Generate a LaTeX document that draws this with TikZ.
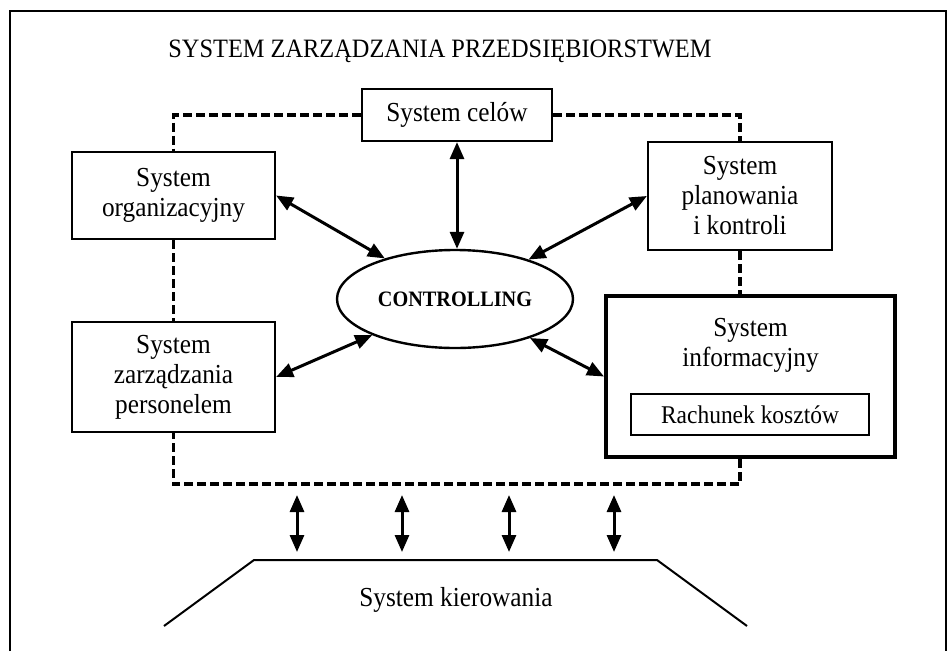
\documentclass[tikz,border=0pt]{standalone}
\usepackage{fontspec}
\setmainfont{Liberation Serif}[FakeStretch=0.92]
\usetikzlibrary{arrows.meta,shapes.geometric}
\begin{document}
\begin{tikzpicture}[x=1pt,y=-1pt,
  box/.style={draw,line width=2.2pt,inner sep=0pt,align=center,font=\fontsize{27.5}{30}\selectfont},
  plaintext/.style={inner sep=0pt,align=center,font=\fontsize{27.5}{30}\selectfont},
  dashline/.style={line width=3.2pt,dash pattern=on 9pt off 4pt},
  biarrow/.style={line width=3pt,arrows={Triangle[length=17pt,width=14pt]-Triangle[length=17pt,width=14pt]}},
  frame/.style={line width=2.4pt},
  trap/.style={line width=2pt}
  ]
\useasboundingbox (0,0) rectangle (951,651);
\draw[frame] (10,651) -- (10,11) -- (946,11) -- (946,651);

\node[anchor=base,inner sep=0pt,font=\fontsize{26.5}{30}\selectfont] (title) at (440,57) {SYSTEM ZARZĄDZANIA PRZEDSIĘBIORSTWEM};

\node[box,minimum width=190pt,minimum height=52pt] (celow) at (457,115) {System celów};
\node[box,minimum width=203pt,minimum height=87pt] (org) at (173.5,195.5) {System\\organizacyjny};
\node[box,minimum width=203pt,minimum height=110pt] (pers) at (173.5,377) {System\\zarządzania\\personelem};
\node[box,minimum width=184pt,minimum height=108pt] (plan) at (740,196) {System\\planowania\\i kontroli};
\node[draw,line width=4pt,inner sep=0pt,minimum width=289pt,minimum height=161pt] (info) at (750.5,376.5) {};
\node[plaintext] (infotext) at (750.5,345) {System\\informacyjny};
\node[draw,line width=2pt,inner sep=0pt,minimum width=238pt,minimum height=41pt,font=\fontsize{25.5}{28}\selectfont] (rach) at (750,414.5) {Rachunek kosztów};

\node[ellipse,draw,line width=2.4pt,inner sep=0pt,minimum width=236pt,minimum height=98pt,font=\bfseries\fontsize{22}{24}\selectfont] (ctrl) at (455,299) {CONTROLLING};

% dashed frame
\coordinate (dbl) at (173.5,484);
\coordinate (dbr) at (740,484);
\draw[dashline] (celow.west) -| (org.north);
\draw[dashline] (celow.east) -| (plan.north);
\draw[dashline] (org.south) -- (pers.north);
\draw[dashline] (plan.south) -- (plan.south |- info.north);
\draw[dashline] (plan.south |- info.south) -- (dbr) -- (dbl) -- (pers.south);

% arrows to controlling
\draw[biarrow] (celow.south) -- (celow.south |- ctrl.north);
\draw[biarrow] (org.east) -- (ctrl);
\draw[biarrow] (plan.west) -- (ctrl);
\draw[biarrow] (pers.east) -- (ctrl);
\draw[biarrow] (info.west) -- (ctrl);

% bottom arrows
\foreach \i/\x in {1/297,2/402,3/509,4/614}{
  \coordinate (a\i t) at (\x,495);
  \coordinate (a\i b) at (\x,552);
  \draw[biarrow] (a\i t) -- (a\i b);
}

% System kierowania
\coordinate (tbl) at (164,626);
\coordinate (ttl) at (254,560);
\coordinate (ttr) at (657,560);
\coordinate (tbr) at (747,626);
\draw[trap] (tbl) -- (ttl) -- (ttr) -- (tbr);
\node[plaintext] (kier) at (456,600) {System kierowania};
\end{tikzpicture}
\end{document}
